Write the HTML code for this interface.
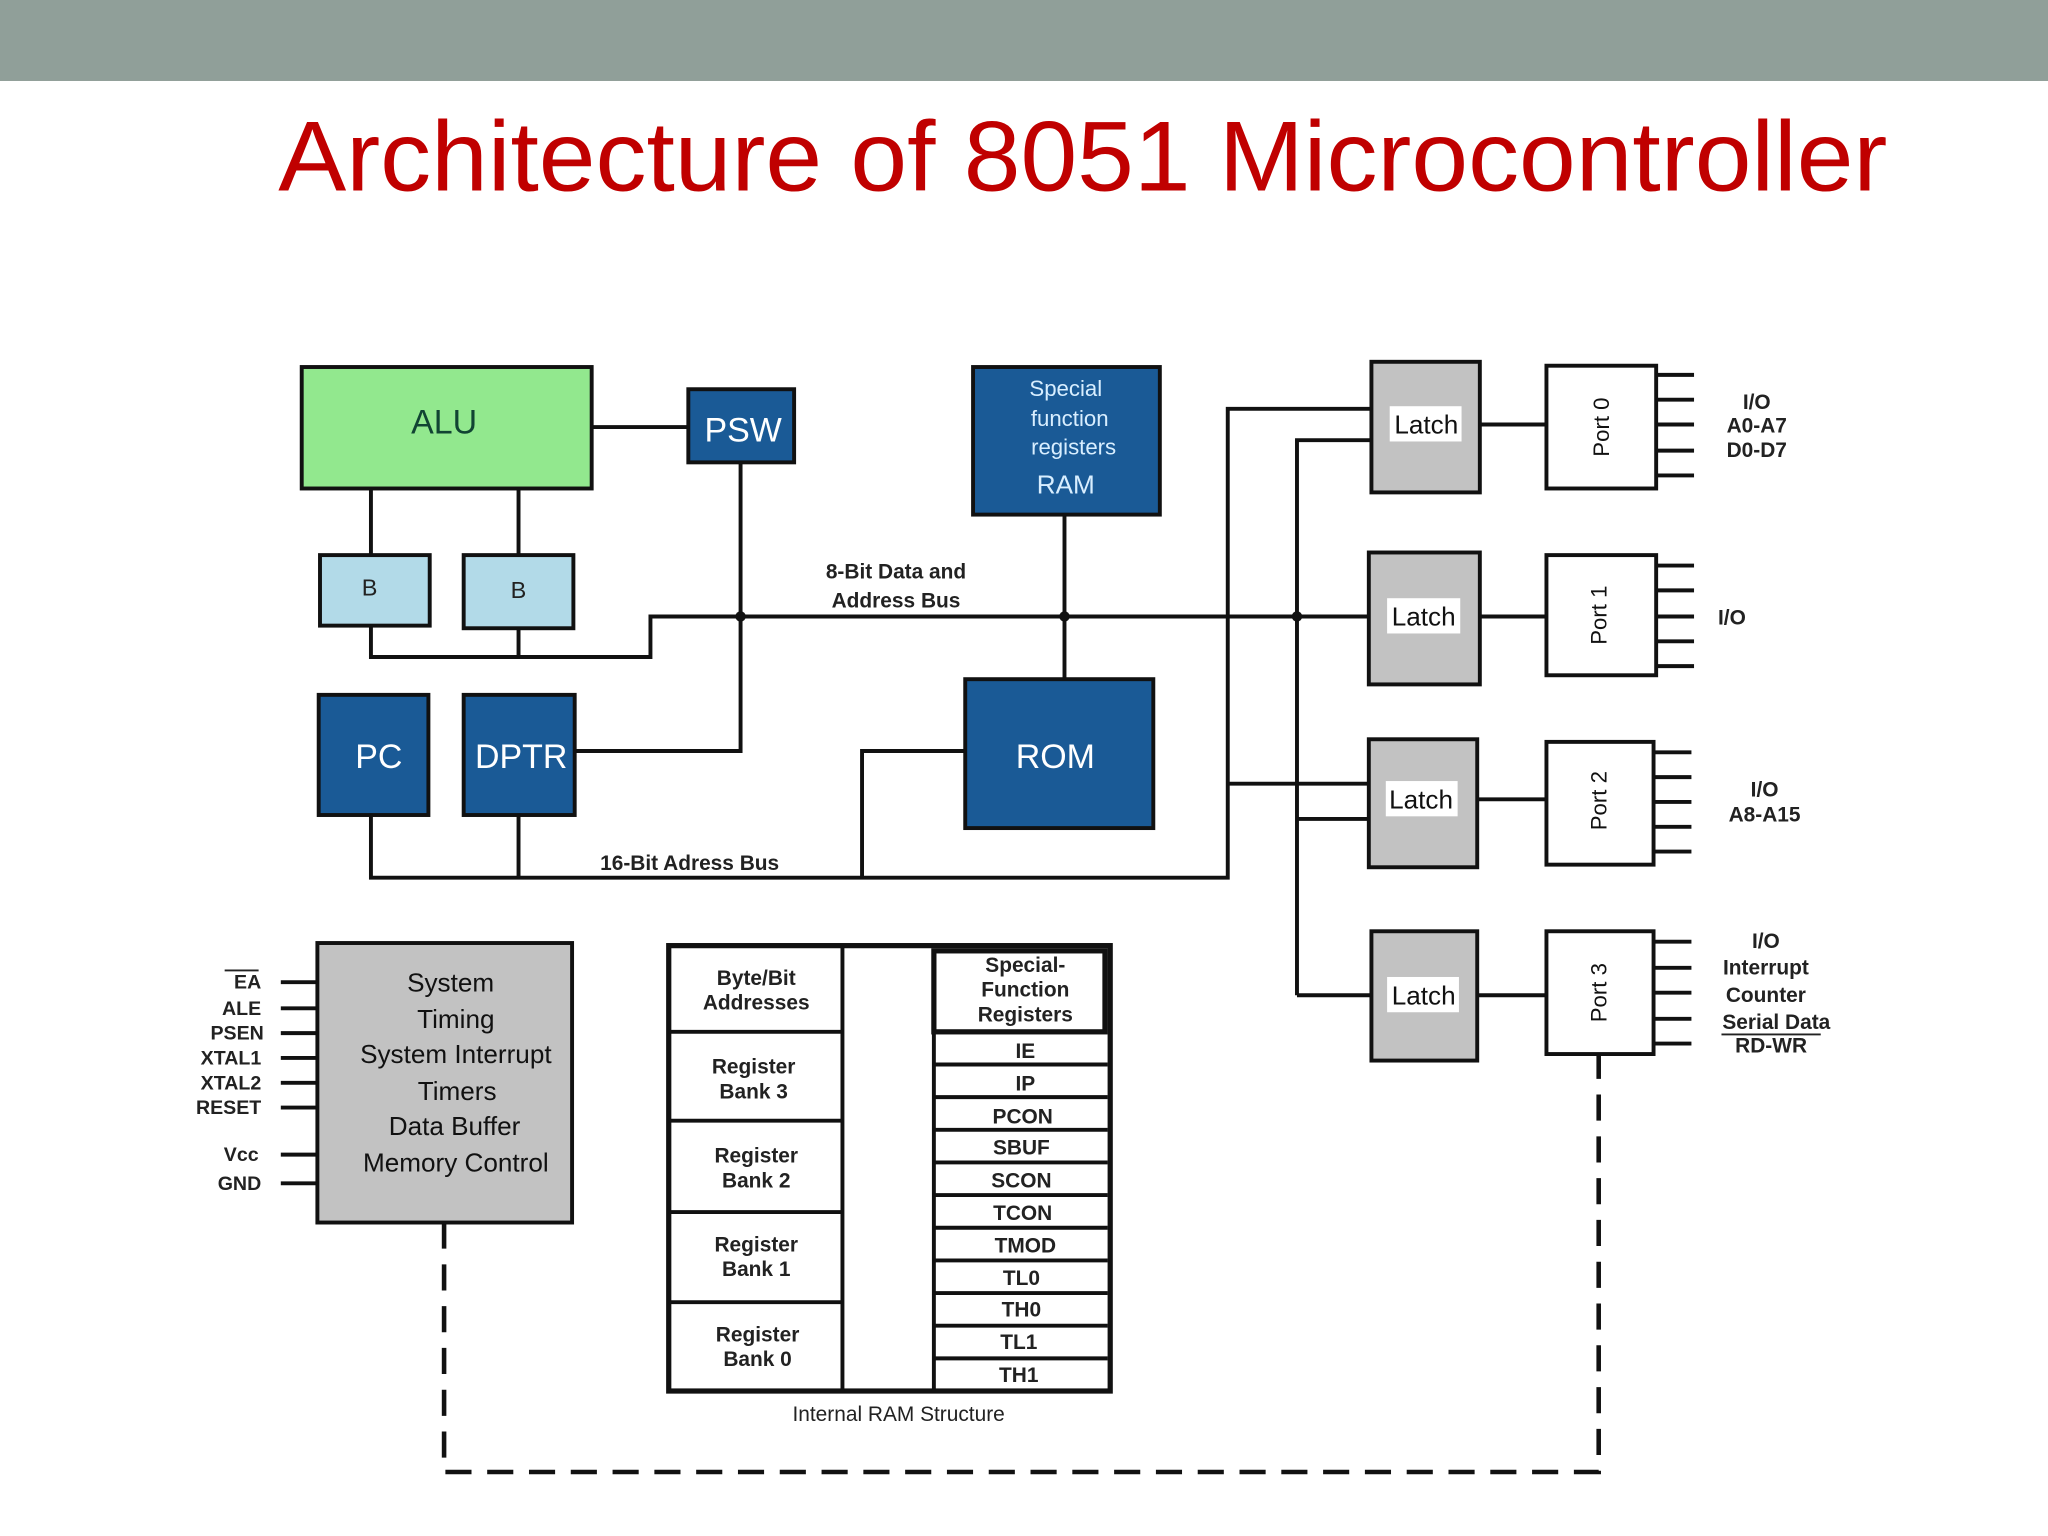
<!DOCTYPE html>
<html><head><meta charset="utf-8"><style>
html,body{margin:0;padding:0;background:#fff;}
svg{display:block;}
text{font-family:"Liberation Sans",sans-serif;}
</style></head><body>
<svg width="2048" height="1536" viewBox="0 0 1568 1176" xmlns="http://www.w3.org/2000/svg">
<rect x="0" y="0" width="1568" height="62" fill="#909f99"/>
<text x="213" y="146" font-size="76" fill="#c00000" textLength="1232" lengthAdjust="spacingAndGlyphs">Architecture of 8051 Microcontroller</text>

<g stroke="#111" stroke-width="3" fill="none">
<!-- connectors -->
<path d="M453 327H527"/>
<path d="M284 374V425M397 374V425"/>
<path d="M284 479V503H498V472H1050"/>
<path d="M397 481V503"/>
<path d="M567 354V575H440"/>
<path d="M815 394V520"/>
<path d="M284 624V672H940V313H1050"/>
<path d="M397 624V672"/>
<path d="M739 575H660V672"/>
<path d="M940 600H1048"/>
<path d="M993 762V337H1050"/>
<path d="M993 627H1048M993 762H1050"/>
<path d="M1133 325H1184M1133 472H1184M1131 612H1184M1131 762H1184"/>
<!-- port pins -->
<path d="M1268 287H1297M1268 306H1297M1268 325H1297M1268 345H1297M1268 364H1297"/>
<path d="M1268 433H1297M1268 452H1297M1268 472H1297M1268 491H1297M1268 510H1297"/>
<path d="M1266 576H1295M1266 595H1295M1266 614H1295M1266 633H1295M1266 652H1295"/>
<path d="M1266 721H1295M1266 741H1295M1266 760H1295M1266 780H1295M1266 799H1295"/>
<!-- system pins -->
<path d="M215 752H243M215 772H243M215 791H243M215 810H243M215 829H243M215 848H243M215 884H243M215 906H243"/>
</g>
<g fill="#111"><circle cx="567" cy="472" r="4"/><circle cx="815" cy="472" r="4"/><circle cx="993" cy="472" r="4"/></g>

<!-- dashed -->
<path d="M340 936V1127H1224V807" stroke="#111" stroke-width="3.5" fill="none" stroke-dasharray="20 12"/>

<!-- boxes -->
<g stroke="#111" stroke-width="3">
<rect x="231" y="281" width="222" height="93" fill="#92e88e"/>
<rect x="527" y="298" width="81" height="56" fill="#1a5a96"/>
<rect x="745" y="281" width="143" height="113" fill="#1a5a96"/>
<rect x="245" y="425" width="84" height="54" fill="#b2dae8"/>
<rect x="355" y="425" width="84" height="56" fill="#b2dae8"/>
<rect x="244" y="532" width="84" height="92" fill="#1a5a96"/>
<rect x="355" y="532" width="85" height="92" fill="#1a5a96"/>
<rect x="739" y="520" width="144" height="114" fill="#1a5a96"/>
<rect x="1050" y="277" width="83" height="100" fill="#c2c2c2"/>
<rect x="1048" y="423" width="85" height="101" fill="#c2c2c2"/>
<rect x="1048" y="566" width="83" height="98" fill="#c2c2c2"/>
<rect x="1050" y="713" width="81" height="99" fill="#c2c2c2"/>
<rect x="1184" y="280" width="84" height="94" fill="#fff"/>
<rect x="1184" y="425" width="84" height="92" fill="#fff"/>
<rect x="1184" y="568" width="82" height="94" fill="#fff"/>
<rect x="1184" y="713" width="82" height="94" fill="#fff"/>
<rect x="243" y="722" width="195" height="214" fill="#c2c2c2"/>
</g>

<!-- RAM table -->
<g stroke="#111" fill="none">
<rect x="512" y="724" width="338" height="341" stroke-width="4"/>
<path d="M645 724V1065M715 790V1065" stroke-width="3"/>
<path d="M512 790H645M512 858H645M512 928H645M512 997H645" stroke-width="3"/>
<rect x="715" y="728" width="131" height="62" stroke-width="4"/>
<path d="M715 815H848M715 840H848M715 865H848M715 890H848M715 915H848M715 940H848M715 965H848M715 990H848M715 1015H848M715 1040H848" stroke-width="3"/>
</g>

<!-- labels -->
<g font-size="26" text-anchor="middle">
<text x="340" y="332" fill="#143">ALU</text>
<text x="569" y="338" fill="#fff">PSW</text>
<text x="290" y="588" fill="#fff">PC</text>
<text x="399" y="588" fill="#fff">DPTR</text>
<text x="808" y="588" fill="#fff">ROM</text>
</g>
<g font-size="17" fill="#d8eeff" text-anchor="middle">
<text x="816" y="303">Special</text>
<text x="819" y="326">function</text>
<text x="822" y="348">registers</text>
<text x="816" y="378" font-size="20">RAM</text>
</g>
<g font-size="18" fill="#222" text-anchor="middle">
<text x="283" y="456">B</text>
<text x="397" y="458">B</text>
</g>
<g font-size="16" fill="#222" font-weight="bold" text-anchor="middle">
<text x="686" y="443">8-Bit Data and</text>
<text x="686" y="465">Address Bus</text>
<text x="528" y="666">16-Bit Adress Bus</text>
<text x="688" y="1088" font-weight="normal">Internal RAM Structure</text>
</g>
<g font-size="20" text-anchor="middle" fill="#111">
<rect x="1064" y="311" width="55" height="27" fill="#fff"/><text x="1092" y="332">Latch</text>
<rect x="1062" y="458" width="56" height="27" fill="#fff"/><text x="1090" y="479">Latch</text>
<rect x="1061" y="598" width="55" height="27" fill="#fff"/><text x="1088" y="619">Latch</text>
<rect x="1062" y="748" width="55" height="27" fill="#fff"/><text x="1090" y="769">Latch</text>
</g>
<g font-size="17" fill="#111" text-anchor="middle">
<text transform="translate(1232,327) rotate(-90)">Port 0</text>
<text transform="translate(1230,471) rotate(-90)">Port 1</text>
<text transform="translate(1230,613) rotate(-90)">Port 2</text>
<text transform="translate(1230,760) rotate(-90)">Port 3</text>
</g>
<g font-size="16" fill="#222" font-weight="bold" text-anchor="middle">
<text x="1345" y="313">I/O</text>
<text x="1345" y="331">A0-A7</text>
<text x="1345" y="350">D0-D7</text>
<text x="1326" y="478">I/O</text>
<text x="1351" y="610">I/O</text>
<text x="1351" y="629">A8-A15</text>
<text x="1352" y="726">I/O</text>
<text x="1352" y="746">Interrupt</text>
<text x="1352" y="767">Counter</text>
<text x="1360" y="788">Serial Data</text>
<text x="1356" y="806">RD-WR</text>
</g>
<path d="M1318 792H1394" stroke="#222" stroke-width="1.5"/>
<g font-size="15" fill="#222" font-weight="bold" text-anchor="end">
<text x="200" y="757">EA</text>
<text x="200" y="777">ALE</text>
<text x="202" y="796">PSEN</text>
<text x="200" y="815">XTAL1</text>
<text x="200" y="834">XTAL2</text>
<text x="200" y="853">RESET</text>
<text x="198" y="889">Vcc</text>
<text x="200" y="911">GND</text>
</g>
<path d="M172 743H198" stroke="#222" stroke-width="1.5"/>
<g font-size="20" fill="#111" text-anchor="middle">
<text x="345" y="759">System</text>
<text x="349" y="787">Timing</text>
<text x="349" y="814">System Interrupt</text>
<text x="350" y="842">Timers</text>
<text x="348" y="869">Data Buffer</text>
<text x="349" y="897">Memory Control</text>
</g>
<g font-size="16" fill="#222" font-weight="bold" text-anchor="middle">
<text x="579" y="754">Byte/Bit</text>
<text x="579" y="773">Addresses</text>
<text x="577" y="822">Register</text>
<text x="577" y="841">Bank 3</text>
<text x="579" y="890">Register</text>
<text x="579" y="909">Bank 2</text>
<text x="579" y="958">Register</text>
<text x="579" y="977">Bank 1</text>
<text x="580" y="1027">Register</text>
<text x="580" y="1046">Bank 0</text>
<text x="785" y="744">Special-</text>
<text x="785" y="763">Function</text>
<text x="785" y="782">Registers</text>
<text x="785" y="810">IE</text>
<text x="785" y="835">IP</text>
<text x="783" y="860">PCON</text>
<text x="782" y="884">SBUF</text>
<text x="782" y="909">SCON</text>
<text x="783" y="934">TCON</text>
<text x="785" y="959">TMOD</text>
<text x="782" y="984">TL0</text>
<text x="782" y="1008">TH0</text>
<text x="780" y="1033">TL1</text>
<text x="780" y="1058">TH1</text>
</g>
</svg>
</body></html>
